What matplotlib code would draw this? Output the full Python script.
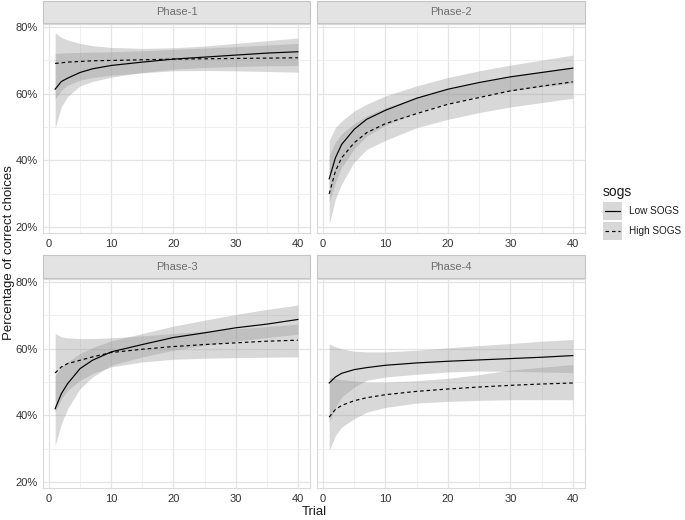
import matplotlib
matplotlib.use('Agg')
import matplotlib.pyplot as plt
from matplotlib.patches import Rectangle
from matplotlib.lines import Line2D

plt.rcParams['font.family'] = ['Liberation Sans', 'DejaVu Sans']

# ---------------- data (percent) ----------------
trials = [1, 2, 3, 5, 7, 10, 15, 20, 25, 30, 35, 40]
phases = ['Phase-1', 'Phase-2', 'Phase-3', 'Phase-4']
groups = ['Low SOGS', 'High SOGS']
x_ticks = [0, 10, 20, 30, 40]
y_ticks = [20, 40, 60, 80]
y_tick_labels = ['20%', '40%', '60%', '80%']

p1_low_mean = [61.3, 63.6, 64.6, 66.3, 67.4, 68.4, 69.4, 70.3, 70.9, 71.5, 72.1, 72.5]
p1_low_up = [78.2, 76.8, 76.0, 75.0, 74.3, 73.8, 73.5, 73.7, 74.2, 75.0, 75.8, 76.6]
p1_low_lo = [49.7, 56.1, 59.1, 62.3, 63.6, 64.9, 66.3, 67.3, 67.8, 68.1, 68.3, 68.4]
p1_high_mean = [69.0, 69.2, 69.4, 69.6, 69.8, 69.9, 70.1, 70.3, 70.4, 70.5, 70.6, 70.7]
p1_high_up = [72.0, 72.1, 72.2, 72.3, 72.4, 72.5, 72.8, 73.2, 73.6, 74.0, 74.5, 75.0]
p1_high_lo = [58.3, 61.0, 62.5, 64.0, 64.8, 65.5, 66.2, 66.8, 66.9, 66.8, 66.6, 66.4]

p2_low_mean = [34.5, 40.8, 44.8, 49.3, 52.3, 55.0, 58.6, 61.3, 63.3, 65.0, 66.3, 67.6]
p2_low_up = [46.0, 49.8, 51.8, 54.8, 56.8, 59.3, 62.3, 64.8, 66.8, 68.5, 70.0, 71.5]
p2_low_lo = [27.5, 33.5, 38.0, 43.5, 47.3, 50.5, 54.5, 57.2, 59.2, 60.8, 62.0, 63.2]
p2_high_mean = [30.0, 36.8, 40.8, 45.3, 48.3, 51.0, 54.0, 56.8, 58.8, 60.8, 62.2, 63.5]
p2_high_up = [41.5, 45.5, 48.0, 51.0, 53.3, 55.8, 58.8, 61.3, 63.3, 65.2, 66.6, 68.0]
p2_high_lo = [21.0, 28.5, 33.0, 39.5, 43.3, 46.0, 49.8, 52.3, 54.3, 56.0, 57.3, 58.6]

p3_low_mean = [42.0, 46.5, 49.5, 54.0, 56.5, 59.0, 61.2, 63.3, 64.7, 66.2, 67.3, 68.7]
p3_low_up = [52.0, 54.5, 56.0, 58.5, 60.3, 62.3, 64.5, 66.7, 68.5, 70.2, 71.7, 73.0]
p3_low_lo = [31.0, 37.5, 42.0, 48.0, 51.5, 55.0, 57.5, 59.5, 61.0, 62.2, 63.3, 64.3]
p3_high_mean = [52.7, 54.5, 55.5, 56.5, 57.5, 58.8, 59.8, 60.6, 61.2, 61.7, 62.2, 62.5]
p3_high_up = [64.5, 63.5, 63.2, 63.0, 63.0, 63.2, 63.8, 64.5, 65.2, 65.9, 66.6, 67.3]
p3_high_lo = [41.0, 45.0, 47.5, 50.5, 52.5, 54.5, 56.0, 56.8, 57.1, 57.3, 57.4, 57.5]

p4_low_mean = [49.7, 51.5, 52.6, 53.7, 54.3, 55.0, 55.7, 56.2, 56.6, 57.0, 57.4, 57.9]
p4_low_up = [61.4, 60.5, 59.9, 59.2, 59.0, 59.0, 59.5, 60.2, 60.9, 61.5, 62.2, 62.7]
p4_low_lo = [38.0, 42.5, 45.5, 48.5, 50.5, 51.5, 52.3, 53.0, 53.3, 53.2, 53.0, 52.8]
p4_high_mean = [39.5, 41.8, 43.0, 44.4, 45.3, 46.2, 47.2, 47.9, 48.5, 49.0, 49.4, 49.7]
p4_high_up = [51.4, 51.0, 50.7, 50.3, 50.0, 50.0, 50.4, 51.1, 52.2, 53.6, 54.4, 55.2]
p4_high_lo = [29.5, 34.0, 36.5, 39.0, 41.0, 42.4, 43.7, 44.2, 44.5, 44.7, 44.7, 44.7]

series = {
    'Phase-1': [(p1_low_mean, p1_low_lo, p1_low_up), (p1_high_mean, p1_high_lo, p1_high_up)],
    'Phase-2': [(p2_low_mean, p2_low_lo, p2_low_up), (p2_high_mean, p2_high_lo, p2_high_up)],
    'Phase-3': [(p3_low_mean, p3_low_lo, p3_low_up), (p3_high_mean, p3_high_lo, p3_high_up)],
    'Phase-4': [(p4_low_mean, p4_low_lo, p4_low_up), (p4_high_mean, p4_high_lo, p4_high_up)],
}
styles = ['-', (0, (3.0, 2.5))]

# ---------------- layout ----------------
W, H = 685, 520
fig = plt.figure(figsize=(W / 100, H / 100), dpi=100)
fig.patch.set_facecolor('white')

def fx(px):
    return px / W

def fy(py):
    return 1 - py / H

panel_x = [(43, 310), (317, 585)]
panel_y = [(24, 233), (279, 488)]
strip_y = [(1, 22.5), (255, 278)]

tick_col = '#333333'
for i, ph in enumerate(phases):
    r, c = divmod(i, 2)
    x0, x1 = panel_x[c]
    y0, y1 = panel_y[r]
    ax = fig.add_axes([fx(x0), fy(y1), fx(x1 - x0), (y1 - y0) / H])
    ax.set_facecolor('white')
    ax.set_xlim(-0.95, 41.95)
    ax.set_ylim(18.3, 80.8)
    ax.set_xticks(x_ticks)
    ax.set_xticks([5, 15, 25, 35], minor=True)
    ax.set_yticks(y_ticks)
    ax.set_yticks([30, 50, 70], minor=True)
    ax.grid(True, which='major', color='#e4e4e4', lw=0.9)
    ax.grid(True, which='minor', color='#eeeeee', lw=0.6)
    ax.set_axisbelow(True)
    ax.tick_params(which='both', length=0, pad=4, labelsize=8, labelcolor=tick_col)
    if c == 0:
        ax.set_yticklabels(y_tick_labels)
    else:
        ax.set_yticklabels([])
    for s in ax.spines.values():
        s.set_color('#dadada')
        s.set_linewidth(0.8)
    for (mean, lo, up), ls in zip(series[ph], styles):
        ax.fill_between(trials, lo, up, color='#999999', alpha=0.38, lw=0)
    for (mean, lo, up), ls in zip(series[ph], styles):
        ax.plot(trials, mean, color='black', lw=0.85, linestyle=ls)
    # strip
    sy0, sy1 = strip_y[r]
    fig.add_artist(Rectangle((fx(x0), fy(sy1)), fx(x1 - x0), (sy1 - sy0) / H,
                             transform=fig.transFigure, facecolor='#e3e3e3',
                             edgecolor='#c4c4c4', lw=0.8))
    fig.text(fx((x0 + x1) / 2), fy((sy0 + sy1) / 2), ph, ha='center', va='center',
             fontsize=8, color='#6e6e6e')

# axis titles
fig.text(fx(314), fy(512), 'Trial', ha='center', va='center', fontsize=9.5, color='#1a1a1a')
fig.text(fx(9), fy(253), 'Percentage of correct choices', ha='center', va='center',
         rotation=90, fontsize=9.5, color='#1a1a1a')

# legend
fig.text(fx(603), fy(192), 'sogs', ha='left', va='center', fontsize=10, color='#1a1a1a')
key_tops = [202, 222]
for g, ls, kt in zip(groups, styles, key_tops):
    fig.add_artist(Rectangle((fx(603), fy(kt + 18)), fx(19), 18 / H,
                             transform=fig.transFigure, facecolor='#d8d8d8', lw=0))
    fig.add_artist(Line2D([fx(605), fx(620)], [fy(kt + 9), fy(kt + 9)],
                          transform=fig.transFigure, color='black', lw=0.85, linestyle=ls))
    fig.text(fx(629), fy(kt + 9.5), g, ha='left', va='center', fontsize=7.2, color='#1a1a1a')

fig.savefig('out.png', dpi=100, facecolor='white')
